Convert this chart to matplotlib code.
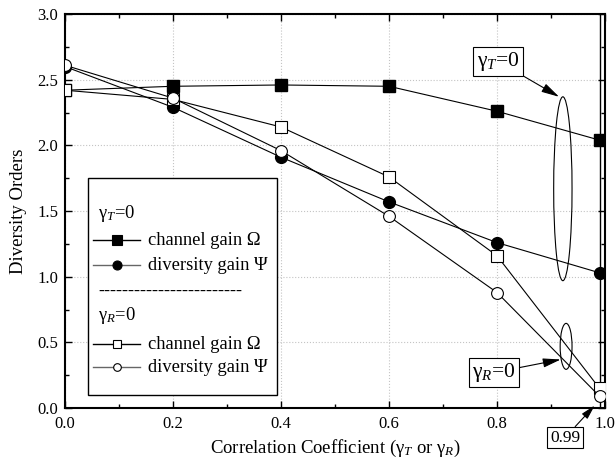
import matplotlib
matplotlib.use("Agg")
import matplotlib.pyplot as plt
from matplotlib.patches import Ellipse, Rectangle
from matplotlib.lines import Line2D
from matplotlib.ticker import MultipleLocator

plt.rcParams['font.family'] = ['Liberation Serif', 'DejaVu Serif']
plt.rcParams['mathtext.fontset'] = 'custom'
plt.rcParams['mathtext.rm'] = 'Liberation Serif'
plt.rcParams['mathtext.it'] = 'Liberation Serif:italic'

# Datos
corr = [0.0, 0.2, 0.4, 0.6, 0.8, 0.99]
canal_T = [2.42, 2.45, 2.46, 2.45, 2.26, 2.04]
divers_T = [2.60, 2.29, 1.91, 1.57, 1.26, 1.03]
canal_R = [2.42, 2.35, 2.14, 1.76, 1.16, 0.15]
divers_R = [2.61, 2.36, 1.96, 1.46, 0.88, 0.09]

fig = plt.figure(figsize=(6.15, 4.68), dpi=100)
ax = fig.add_axes([0.1057, 0.128, 0.878, 0.842])

# Curvas: primero las rellenas, luego las abiertas encima
ax.plot(corr, canal_T, '-s', color='black', lw=0.8, ms=8.5, mfc='black', zorder=3)
ax.plot(corr, divers_T, '-o', color='black', lw=0.8, ms=8.5, mfc='black', zorder=3)
ax.plot(corr, canal_R, '-s', color='black', lw=0.8, ms=8, mfc='white', mew=0.8, zorder=4)
ax.plot(corr, divers_R, '-o', color='black', lw=0.8, ms=8.5, mfc='white', mew=0.8, zorder=4)

# Linea vertical en 0.99
ax.axvline(corr[-1], color='black', lw=1.0, zorder=2)

ax.set_xlim(0, 1.0)
ax.set_ylim(0, 3.0)
ax.xaxis.set_major_locator(MultipleLocator(0.2))
ax.xaxis.set_minor_locator(MultipleLocator(0.1))
ax.yaxis.set_major_locator(MultipleLocator(0.5))
ax.yaxis.set_minor_locator(MultipleLocator(0.25))
ax.tick_params(which='both', direction='in', top=True, right=True, width=1.0,
               labelsize=12)
ax.tick_params(which='major', length=5)
ax.tick_params(which='minor', length=3)
ax.tick_params(axis='x', pad=6)
ax.tick_params(axis='y', pad=5)
for s in ax.spines.values():
    s.set_linewidth(1.5)
ax.grid(True, which='major', linestyle=':', color='#c4c4c4', lw=0.8)

ax.set_xlabel('Correlation Coefficient (γ$_T$ or γ$_R$)', fontsize=13.5, labelpad=4)
ax.set_ylabel('Diversity Orders', fontsize=13.5, labelpad=7)

# Elipses y anotaciones
ax.add_patch(Ellipse((0.922, 1.67), 0.034, 1.40, fill=False, color='black', lw=0.8, zorder=5))
ax.add_patch(Ellipse((0.928, 0.47), 0.022, 0.35, fill=False, color='black', lw=0.8, zorder=5))

caja = dict(boxstyle='square,pad=0.15', fc='white', ec='black', lw=0.8)
flecha = dict(arrowstyle='-|>,head_length=0.7,head_width=0.18', color='black', lw=0.8,
              shrinkA=0, shrinkB=0)
ax.annotate('γ$_T$=0', xy=(0.915, 2.37), xytext=(0.802, 2.64), fontsize=15.5,
            ha='center', va='center', bbox=caja, arrowprops=flecha, zorder=6)
ax.annotate('γ$_R$=0', xy=(0.918, 0.37), xytext=(0.794, 0.27), fontsize=15.5,
            ha='center', va='center', bbox=caja, arrowprops=flecha, zorder=6)
ax.annotate('0.99', xy=(0.981, 0.02), xytext=(0.926, -0.225), fontsize=12.5,
            ha='center', va='center', bbox=caja, arrowprops=flecha, zorder=6,
            annotation_clip=False)

# Leyenda dibujada a mano
tr = ax.transAxes
ax.add_patch(Rectangle((0.043, 0.034), 0.35, 0.55, transform=tr, fc='white',
                       ec='black', lw=1.0, zorder=7))
fs = 13.3
x0, x1, xm, xt = 0.052, 0.139, 0.097, 0.154
ax.text(0.061, 0.495, 'γ$_T$=0', transform=tr, fontsize=fs, va='center', zorder=8)
entradas = [
    (0.426, 's', 'black', 'black', 'channel gain Ω'),
    (0.363, 'o', 'black', '#666666', 'diversity gain Ψ'),
    (0.162, 's', 'white', 'black', 'channel gain Ω'),
    (0.104, 'o', 'white', '#666666', 'diversity gain Ψ'),
]
for y, mk, fc, lc, lab in entradas:
    ax.add_line(Line2D([x0, x1], [y, y], transform=tr, color=lc, lw=1.0, zorder=8))
    ax.add_line(Line2D([xm], [y], transform=tr, marker=mk, ms=6.5 if fc == 'black' else 5.5,
                       mfc=fc, mec='black', mew=0.8, zorder=9))
    ax.text(xt, y, lab, transform=tr, fontsize=fs, va='center', zorder=8)
ax.text(0.061, 0.297, '-' * 24, transform=tr, fontsize=fs, va='center', zorder=8)
ax.text(0.061, 0.236, 'γ$_R$=0', transform=tr, fontsize=fs, va='center', zorder=8)

fig.savefig('out.png', dpi=100)
